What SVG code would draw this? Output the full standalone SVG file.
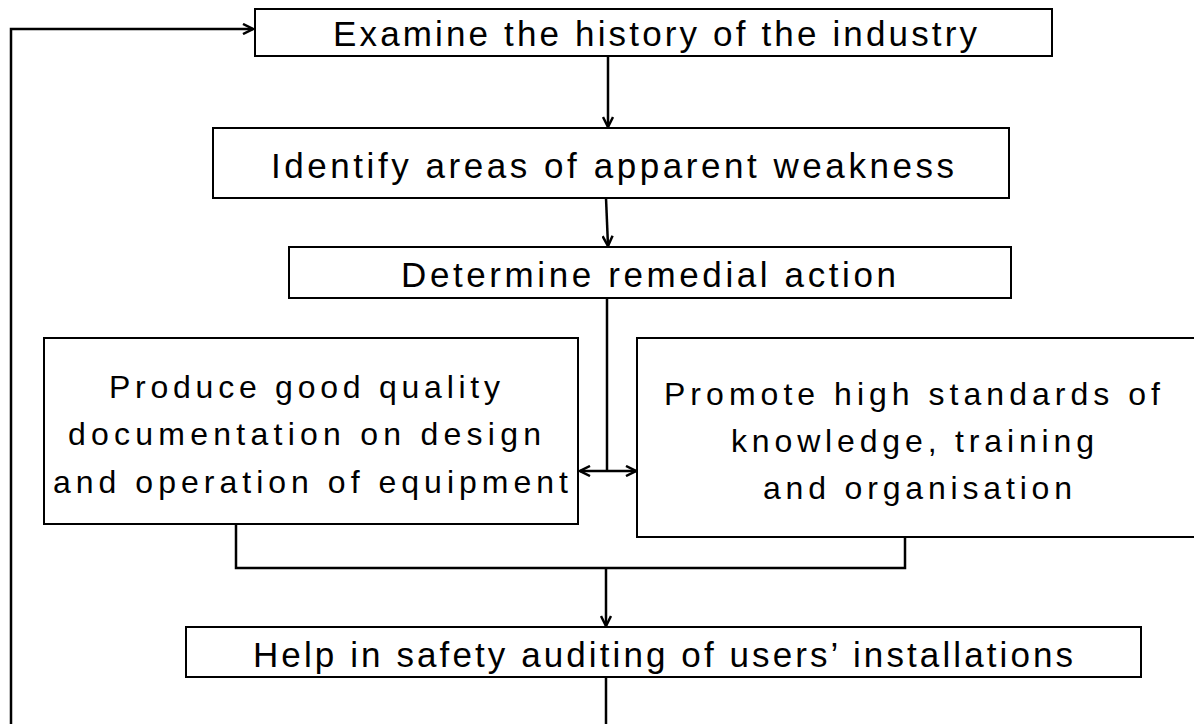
<svg xmlns="http://www.w3.org/2000/svg" width="1194" height="724" viewBox="0 0 1194 724">
  <style>
    .box { fill: #ffffff; stroke: #000000; stroke-width: 2; }
    .link { fill: none; stroke: #000000; stroke-width: 2.5; }
    .single { font-family: "Liberation Sans", Arial, sans-serif; font-size: 35px; fill: #000000; }
    .multi { font-family: "Liberation Sans", Arial, sans-serif; font-size: 32px; fill: #000000; }
  </style>
  <defs>
    <marker id="chev" viewBox="0 0 12 12" refX="11" refY="6" markerWidth="12" markerHeight="12" markerUnits="userSpaceOnUse" orient="auto-start-reverse">
      <path d="M1,1 L11,6 L1,11" fill="none" stroke="#000000" stroke-width="2.5" stroke-linejoin="miter"/>
    </marker>
  </defs>
  <rect width="1194" height="724" fill="#ffffff"/>

  <!-- connectors -->
  <g id="connectors">
    <!-- feedback loop back to the top -->
    <path class="link" d="M11,724 V29 H253" stroke-width="3" marker-end="url(#chev)"/>
    <line class="link" x1="608" y1="56" x2="608" y2="127" marker-end="url(#chev)"/>
    <line class="link" x1="606" y1="198" x2="608" y2="246" marker-end="url(#chev)"/>
    <!-- split to the two parallel activities -->
    <line class="link" x1="607" y1="298" x2="607" y2="471"/>
    <line class="link" x1="580" y1="471" x2="636" y2="471" marker-start="url(#chev)" marker-end="url(#chev)"/>
    <!-- merge of the two activities -->
    <path class="link" d="M236,524 V568 H905 V537"/>
    <line class="link" x1="606" y1="568" x2="606" y2="626" marker-end="url(#chev)"/>
    <line class="link" x1="606" y1="677" x2="606" y2="724"/>
  </g>

  <g id="examine-history">
    <rect class="box" x="255" y="9" width="797" height="47"/>
    <text class="single" x="333" y="46" textLength="644">Examine the history of the industry</text>
  </g>

  <g id="identify-weakness">
    <rect class="box" x="213" y="128" width="796" height="70"/>
    <text class="single" x="271" y="178" textLength="683">Identify areas of apparent weakness</text>
  </g>

  <g id="remedial-action">
    <rect class="box" x="289" y="247" width="722" height="51"/>
    <text class="single" x="401" y="287" textLength="495">Determine remedial action</text>
  </g>

  <g id="documentation">
    <rect class="box" x="44" y="338" width="534" height="186"/>
    <text class="multi" x="109" y="398" textLength="391">Produce good quality</text>
    <text class="multi" x="68" y="445" textLength="473">documentation on design</text>
    <text class="multi" x="53" y="493" textLength="515">and operation of equipment</text>
  </g>

  <g id="standards">
    <rect class="box" x="637" y="338" width="600" height="199"/>
    <text class="multi" x="664" y="405" textLength="496">Promote high standards of</text>
    <text class="multi" x="731" y="452" textLength="363">knowledge, training</text>
    <text class="multi" x="763" y="499" textLength="309">and organisation</text>
  </g>

  <g id="safety-auditing">
    <rect class="box" x="186" y="627" width="955" height="50"/>
    <text class="single" x="253" y="667" textLength="820">Help in safety auditing of users’ installations</text>
  </g>
</svg>
